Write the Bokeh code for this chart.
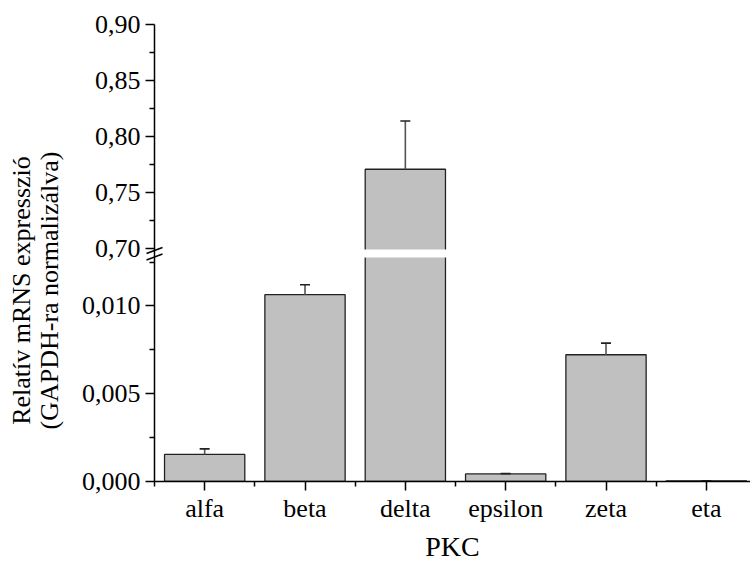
import math

from bokeh.embed import file_html
from bokeh.models import (BooleanFilter, CDSView, ColumnDataSource,
                          CustomJSTickFormatter, FixedTicker, Range1d)
from bokeh.plotting import figure
from bokeh.resources import INLINE

# PKC isoform expression, relative to GAPDH (mean and SEM)
isoforms = ["alfa", "beta", "delta", "epsilon", "zeta", "eta"]
expression = [0.00154, 0.01064, 0.771, 0.00043, 0.00722, 0.00004]
sem = [0.00032, 0.00057, 0.043, 0.00002, 0.00066, 0.0]

# broken y axis: lower and upper segments
lower_ticks = [0.0, 0.005, 0.010]
lower_minor = [0.0025, 0.0075, 0.0125]
upper_ticks = [0.70, 0.75, 0.80, 0.85, 0.90]
upper_minor = [0.725, 0.775, 0.825, 0.875]
LOWER_TOP = 0.01276      # where the lower segment stops
UPPER_BOTTOM = 0.6995    # where the upper segment starts
UPPER_TOP = 0.90

FONT = "Liberation Serif"
TICK_SIZE = "26px"
TITLE_SIZE = "28px"
BAR_FILL = "#c0c0c0"
BAR_LINE = "#222222"
BAR_WIDTH = 0.8

# canvas layout (pixels)
W, H = 750, 565
LEFT, TOP, BOTTOM = 154, 24, 84
FRAME_W = W - LEFT
FRAME_H = H - TOP - BOTTOM
LOWER_H, GAP = 224, 8
UPPER_H = FRAME_H - LOWER_H - GAP

lower_px = LOWER_H / LOWER_TOP
upper_px = UPPER_H / (UPPER_TOP - UPPER_BOTTOM)
SPLIT = LOWER_TOP + GAP / lower_px   # axis coordinate where the upper segment begins


def axis_coord(v):
    """Position of a value on the (lower-scaled) broken y axis."""
    if v <= LOWER_TOP:
        return v
    return SPLIT + (v - UPPER_BOTTOM) * upper_px / lower_px


xpos = list(range(1, len(isoforms) + 1))
x_range = Range1d(0.5, 6.44)
x_px = FRAME_W / (x_range.end - x_range.start)

source = ColumnDataSource(dict(
    x=xpos,
    top=expression,
    err_top=[m + s for m, s in zip(expression, sem)],
))
in_lower = CDSView(filter=BooleanFilter([v <= LOWER_TOP for v in expression]))
in_upper = CDSView(filter=BooleanFilter([v >= UPPER_BOTTOM for v in expression]))

p = figure(width=W, height=H, x_range=x_range,
           y_range=Range1d(0.0, FRAME_H / lower_px),
           output_backend="svg", toolbar_location=None,
           min_border_left=LEFT, min_border_right=0,
           min_border_top=TOP, min_border_bottom=BOTTOM)
# the upper segment's own scale, aligned with the axis above the break
p.extra_y_ranges = {"upper": Range1d(UPPER_TOP - FRAME_H / upper_px, UPPER_TOP)}
p.outline_line_color = None
p.grid.visible = False


def style_axis(ax):
    ax.axis_line_width = 1.5
    ax.axis_line_color = "black"
    ax.major_tick_line_width = 1.5
    ax.minor_tick_line_width = 1.5
    ax.major_tick_out = 9
    ax.major_tick_in = 0
    ax.minor_tick_out = 5
    ax.minor_tick_in = 0
    ax.major_label_text_font = FONT
    ax.major_label_text_font_size = TICK_SIZE
    ax.major_label_text_color = "black"


# y axis with both segments
ya = p.yaxis[0]
style_axis(ya)
ya.bounds = (0.0, axis_coord(UPPER_TOP))
ya.ticker = FixedTicker(ticks=[axis_coord(v) for v in lower_ticks + upper_ticks],
                        minor_ticks=[axis_coord(v) for v in lower_minor + upper_minor])
ya.formatter = CustomJSTickFormatter(
    args=dict(lower_top=LOWER_TOP, split=SPLIT, base=UPPER_BOTTOM,
              ratio=lower_px / upper_px),
    code="""
        if (tick <= lower_top + 1e-12)
            return tick.toFixed(3).replace('.', ',');
        const v = base + (tick - split) * ratio;
        return v.toFixed(2).replace('.', ',');
    """)
ya.major_label_standoff = 5

# bars below the break
p.vbar(x="x", top="top", bottom=0, width=BAR_WIDTH, source=source, view=in_lower,
       fill_color=BAR_FILL, line_color=BAR_LINE, line_width=1.3)
# bars reaching above the break, drawn on the upper scale
p.vbar(x="x", top="top", bottom=0, width=BAR_WIDTH, source=source, view=in_upper,
       y_range_name="upper",
       fill_color=BAR_FILL, line_color=BAR_LINE, line_width=1.3)

# white gap cut through the tall bars at the break
tall = [x for x, v in zip(xpos, expression) if v >= UPPER_BOTTOM]
p.quad(left=[x - BAR_WIDTH / 2 - 0.02 for x in tall],
       right=[x + BAR_WIDTH / 2 + 0.02 for x in tall],
       bottom=[LOWER_TOP] * len(tall),
       top=[SPLIT] * len(tall),
       fill_color="white", line_color=None)

# error bars (upper half only)
for view, rng in ((in_lower, "default"), (in_upper, "upper")):
    p.segment(x0="x", y0="top", x1="x", y1="err_top", source=source, view=view,
              y_range_name=rng, line_color="#555555", line_width=1.6)
    p.dash(x="x", y="err_top", size=10, source=source, view=view,
           y_range_name=rng, line_color="#222222", line_width=1.6)

# x axis
xa = p.xaxis[0]
style_axis(xa)
xa.ticker = FixedTicker(ticks=xpos,
                        minor_ticks=[v - 0.5 for v in xpos] + [xpos[-1] + 0.5])
xa.major_label_overrides = {x: name for x, name in zip(xpos, isoforms)}
xa.major_label_standoff = 3
xa.axis_label = "PKC"
xa.axis_label_text_font = FONT
xa.axis_label_text_font_size = TITLE_SIZE
xa.axis_label_text_font_style = "normal"
xa.axis_label_text_color = "black"
xa.axis_label_standoff = 5

# break marks across the y axis
dx = 8 / x_px
dy = 3 / lower_px
marks_y = [SPLIT - 1 / lower_px, LOWER_TOP + 0.5 / lower_px]
brk = p.segment(x0=[x_range.start - dx] * 2, y0=[y - dy for y in marks_y],
                x1=[x_range.start + dx] * 2, y1=[y + dy for y in marks_y],
                line_color="black", line_width=1.5)
brk.level = "overlay"

# y axis title (two lines, rotated), placed in the left margin
title_lines = ["Relatív mRNS expresszió", "(GAPDH-ra normalizálva)"]
title_cx = [21, 49]
title_cy = 290
t = p.text(x=[x_range.start + (cx - LEFT) / x_px for cx in title_cx],
           y=[(TOP + FRAME_H - title_cy) / lower_px] * 2,
           text=title_lines, angle=math.pi / 2,
           text_align="center", text_baseline="middle",
           text_font={"value": FONT}, text_font_size="26px",
           text_color="black")
t.level = "overlay"

with open("out.html", "w") as f:
    f.write(file_html(p, INLINE))
